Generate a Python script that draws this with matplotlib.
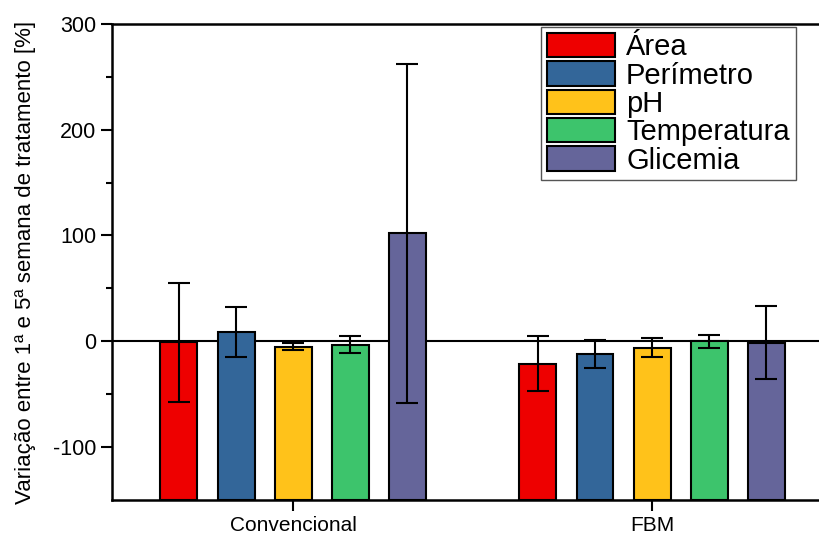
import numpy as np
import matplotlib
matplotlib.use('Agg')
import matplotlib.pyplot as plt

plt.rcParams['font.family'] = ['Liberation Sans', 'DejaVu Sans']
plt.rcParams['axes.unicode_minus'] = False

# groups and series
groups = ['Convencional', 'FBM']
series = ['Área', 'Perímetro', 'pH', 'Temperatura', 'Glicemia']
colors = ['#EE0000', '#336699', '#FFC21A', '#3DC46C', '#65659A']

# mean variation [%] per series, one value per group
means = {
    'Área':        [-1, -21],
    'Perímetro':   [9, -12],
    'pH':          [-5, -6],
    'Temperatura': [-3, 0],
    'Glicemia':    [102, -1.5],
}
errors = {
    'Área':        [56, 26],
    'Perímetro':   [23.5, 13],
    'pH':          [3.3, 9],
    'Temperatura': [7.6, 6.3],
    'Glicemia':    [160, 34.5],
}

ymin, ymax = -150, 300

fig = plt.figure(figsize=(8.19, 5.39), dpi=100)
ax = fig.add_axes([0.137, 0.072, 0.863, 0.884])

x = np.arange(len(groups))
step = 0.159
width = 0.103

# bars start at the bottom of the axis (Origin style)
for i, (name, c) in enumerate(zip(series, colors)):
    pos = x + (i - 2) * step
    heights = np.array(means[name]) - ymin
    ax.bar(pos, heights, width, bottom=ymin, color=c, edgecolor='black',
           linewidth=1.5, label=name, zorder=2)
    ax.errorbar(pos, means[name], yerr=errors[name], fmt='none', ecolor='black',
                elinewidth=1.5, capsize=8, capthick=1.5, zorder=3)

ax.axhline(0, color='black', linewidth=1.5, zorder=1)

ax.set_xlim(-0.504, 1.465)
ax.set_ylim(ymin, ymax)
ax.set_xticks(x)
ax.set_xticklabels(groups, fontsize=15)
ax.set_yticks([-100, 0, 100, 200, 300])
ax.set_yticks([-50, 50, 150, 250], minor=True)
ax.tick_params(axis='y', labelsize=15.5, width=1.5, length=8)
ax.tick_params(axis='y', which='minor', width=1.5, length=4)
ax.tick_params(axis='x', width=1.5, length=8)

for side in ['left', 'bottom', 'top']:
    ax.spines[side].set_linewidth(1.8)
ax.spines['right'].set_visible(False)

ax.set_ylabel('Variação entre 1ª e 5ª semana de tratamento [%]', fontsize=16,
              labelpad=12)

leg = ax.legend(loc='upper left', bbox_to_anchor=(0.607, 0.993), borderaxespad=0,
                fontsize=21, handlelength=2.33, handleheight=0.92, handletextpad=0.38,
                borderpad=0.2, labelspacing=0.0, fancybox=False, framealpha=1)
leg.get_frame().set_edgecolor('#555555')
leg.get_frame().set_linewidth(1.0)

fig.savefig('out.png', dpi=100)
